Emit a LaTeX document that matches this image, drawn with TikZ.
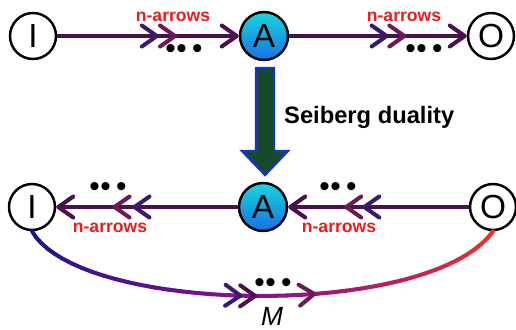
\documentclass[tikz,border=0pt]{standalone}
\usepackage{fontspec}
\setmainfont{Liberation Sans}
\usetikzlibrary{arrows.meta, decorations.markings}

\definecolor{flowcol}{RGB}{74,16,80}
\definecolor{chevA}{RGB}{58,26,110}
\definecolor{chevB}{RGB}{110,24,84}
\definecolor{labred}{RGB}{232,30,30}
\definecolor{gaugetop}{RGB}{24,214,222}
\definecolor{gaugebot}{RGB}{24,112,226}
\definecolor{dualgreen}{RGB}{22,74,40}
\definecolor{dualblue}{RGB}{24,52,200}
\definecolor{mesonA}{RGB}{20,20,140}
\definecolor{mesonP}{RGB}{140,16,140}
\definecolor{mesonB}{RGB}{250,50,30}

\tikzset{
  >={Straight Barb[length=3mm, width=4.2mm, round]},
  vertex/.style={circle, draw=black, line width=1.4pt, fill=white, minimum size=0.92cm, inner sep=0pt, font=\fontsize{19}{19}\selectfont},
  gauge/.style={vertex, top color=gaugetop, bottom color=gaugebot, minimum size=0.96cm},
  flow/.style={draw=flowcol, line width=2.3pt, ->},
  twochev/.style 2 args={postaction={decorate}, decoration={markings,
      mark=at position #1 with {\arrow[chevA]{>}},
      mark=at position #2 with {\arrow[chevB]{>}}}},
  nlabel/.style={text=labred, font=\bfseries\fontsize{10}{10}\selectfont},
  dots/.style={inner sep=0pt, font=\fontsize{17}{17}\selectfont},
  meson/.style={line width=2.3pt, line cap=round},
  dualarrow/.style={fill=dualgreen, draw=dualblue, line width=1.3pt, line join=miter}
}

\begin{document}
\begin{tikzpicture}[x=0.02cm, y=-0.02cm]
  \useasboundingbox (0,0) rectangle (516,329);

  % electric quiver
  \node[vertex] (I1) at (33,36) {I};
  \node[gauge] (A1) at (264,36) {A};
  \node[vertex] (O1) at (491,36) {O};
  \draw[flow, twochev={0.56}{0.66}] (I1) -- (A1);
  \draw[flow, twochev={0.56}{0.66}] (A1) -- (O1);
  \node[nlabel] (n1) at (173,17) {n-arrows};
  \node[nlabel] (n2) at (404,17) {n-arrows};
  \node[dots] (d1) at (184,52) {\textbullet\hspace{0.3pt}\textbullet\hspace{3pt}\textbullet};
  \node[dots] (d2) at (424,52) {\textbullet\hspace{0.3pt}\textbullet\hspace{3pt}\textbullet};

  % duality arrow
  \draw[dualarrow] (256,68) -- (274,68) -- (274,151) -- (288,151) -- (265,175)
    -- (242,151) -- (256,151) -- cycle;
  \node[anchor=west, font=\bfseries\fontsize{13.5}{13.5}\selectfont] (sd) at (278,117) {Seiberg duality};

  % magnetic quiver
  \node[vertex] (I2) at (32,207) {I};
  \node[gauge] (A2) at (263,207) {A};
  \node[vertex] (O2) at (493,207) {O};
  \draw[flow, twochev={0.58}{0.69}] (A2) -- (I2);
  \draw[flow, twochev={0.59}{0.69}] (O2) -- (A2);
  \node[nlabel] (n3) at (110,228) {n-arrows};
  \node[nlabel] (n4) at (339,228) {n-arrows};
  \node[dots] (d3) at (108,190) {\textbullet\hspace{0.3pt}\textbullet\hspace{3pt}\textbullet};
  \node[dots] (d4) at (338,190) {\textbullet\hspace{0.3pt}\textbullet\hspace{3pt}\textbullet};

  % meson line
  \path (I2.south) .. controls (80,315) and (430,320) .. (O2.south)
    \foreach \i [evaluate=\i as \t using \i/40] in {0,...,40} {coordinate[pos=\t] (m\i)};
  \foreach \i [evaluate=\i as \j using int(\i+1), evaluate=\i as \p using int(5*\i)] in {0,...,19}
    \draw[meson, color=mesonP!\p!mesonA] (m\i) -- (m\j);
  \foreach \i [evaluate=\i as \j using int(\i+1), evaluate=\i as \p using int(5*(\i-20))] in {20,...,39}
    \draw[meson, color=mesonB!\p!mesonP] (m\i) -- (m\j);
  \path[line width=2.3pt, postaction={decorate}, decoration={markings,
      mark=at position 0.46 with {\arrow[chevA]{>}},
      mark=at position 0.49 with {\arrow[flowcol]{>}},
      mark=at position 0.61 with {\arrow[chevB]{>}}}]
    (I2.south) .. controls (80,315) and (430,320) .. (O2.south);
  \node[dots] (d5) at (273,286) {\textbullet\hspace{0.3pt}\textbullet\hspace{3pt}\textbullet};
  \node[anchor=base, inner sep=0pt, font=\itshape\fontsize{15}{15}\selectfont] (M) at (272,325) {M};
\end{tikzpicture}
\end{document}
